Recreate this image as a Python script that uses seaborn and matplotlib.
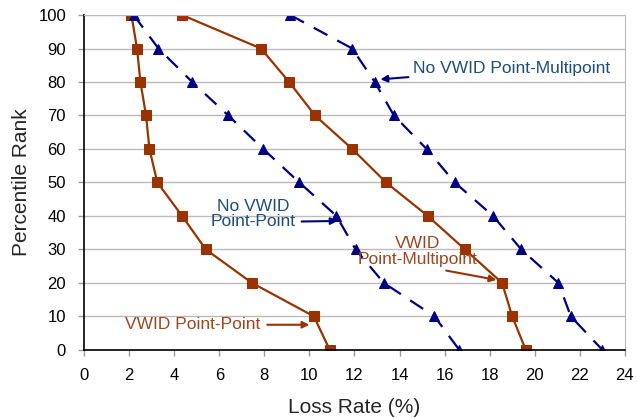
import pandas as pd
import seaborn as sns
import matplotlib.pyplot as plt

percentiles = [100, 90, 80, 70, 60, 50, 40, 30, 20, 10, 0]
vwid_pp = [2.1, 2.35, 2.5, 2.75, 2.9, 3.25, 4.35, 5.4, 7.45, 10.2, 10.9]
vwid_pmp = [4.35, 7.85, 9.1, 10.25, 11.9, 13.4, 15.25, 16.9, 18.55, 19.0, 19.6]
novwid_pp = [2.2, 3.3, 4.8, 6.4, 7.95, 9.55, 11.2, 12.05, 13.3, 15.55, 16.65]
novwid_pmp = [9.15, 11.9, 12.9, 13.75, 15.2, 16.45, 18.15, 19.4, 21.05, 21.6, 23.0]

brown = '#993300'
navy = '#000080'
brown_text = '#A0461E'
blue_text = '#1F4E79'

sns.set_style('white')
plt.rcParams['font.family'] = ['Liberation Sans', 'DejaVu Sans']

fig = plt.figure(figsize=(6.37, 4.18), dpi=100)
ax = fig.add_axes([0.132, 0.163, 0.849, 0.801])

series = [
    (vwid_pp, brown, 's', '-'),
    (vwid_pmp, brown, 's', '-'),
    (novwid_pp, navy, '^', (0, (7, 5))),
    (novwid_pmp, navy, '^', (0, (7, 5))),
]
for xs, col, mk, ls in series:
    df = pd.DataFrame({'loss': xs, 'rank': percentiles})
    sns.lineplot(data=df, x='loss', y='rank', sort=False, color=col, marker=mk,
                 markersize=7, markeredgecolor=col, linewidth=1.6, ax=ax)
    ax.lines[-1].set_linestyle(ls)

ax.set_xlim(0, 24)
ax.set_ylim(0, 100)
ax.set_xticks(range(0, 25, 2))
ax.set_yticks(range(0, 101, 10))
ax.yaxis.grid(True, color='#BBBBBB', linewidth=1)
ax.set_axisbelow(True)
for s in ['top', 'right']:
    ax.spines[s].set_color('#BBBBBB')
for s in ['left', 'bottom']:
    ax.spines[s].set_color('black')
    ax.spines[s].set_linewidth(1.2)
ax.tick_params(axis='both', direction='out', length=4, width=1, color='#999999',
               labelcolor='black', labelsize=12, bottom=True, left=True)
ax.tick_params(axis='x', pad=9)
ax.tick_params(axis='y', pad=9)
ax.set_xlabel('Loss Rate (%)', fontsize=15, labelpad=11)
ax.set_ylabel('Percentile Rank', fontsize=15, labelpad=5)

ax.annotate('No VWID Point-Multipoint', xy=(13.15, 80.8), xytext=(14.6, 83.9),
            color=blue_text, fontsize=12.5, va='center', ha='left',
            arrowprops=dict(arrowstyle='-|>', color=navy, lw=1.5, mutation_scale=10,
                            shrinkA=1, shrinkB=0))
ax.annotate('No VWID\nPoint-Point', xy=(11.25, 38.5), xytext=(7.5, 40.6),
            color=blue_text, fontsize=12.5, va='center', ha='center', linespacing=1.05,
            arrowprops=dict(arrowstyle='-|>', color=navy, lw=1.5, mutation_scale=10,
                            shrinkA=2, shrinkB=0, relpos=(1, 0.25)))
ax.annotate('VWID\nPoint-Multipoint', xy=(18.3, 20.9), xytext=(14.8, 29.3),
            color=brown_text, fontsize=12.5, va='center', ha='center', linespacing=1.05,
            arrowprops=dict(arrowstyle='-|>', color=brown, lw=1.5, mutation_scale=10,
                            shrinkA=1, shrinkB=0, relpos=(0.58, 0)))
ax.annotate('VWID Point-Point', xy=(10.0, 7.5), xytext=(1.8, 7.5),
            color=brown_text, fontsize=12.5, va='center', ha='left',
            arrowprops=dict(arrowstyle='-|>', color=brown, lw=1.5, mutation_scale=10,
                            shrinkA=3, shrinkB=0))

fig.savefig('out.png', dpi=100)
